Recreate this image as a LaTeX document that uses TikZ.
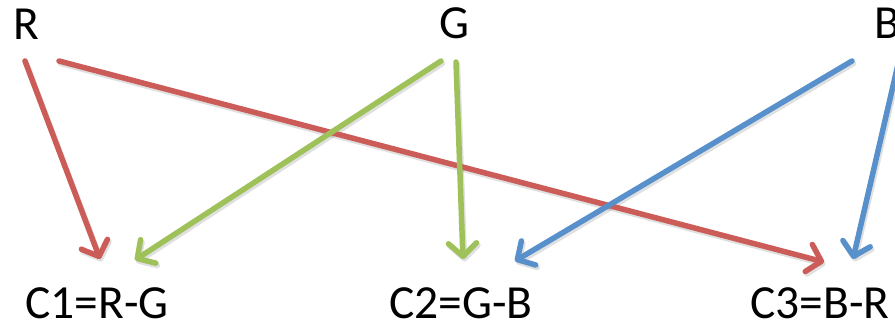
\documentclass[tikz,border=0pt]{standalone}
\usepackage{fontspec}
\setmainfont{Carlito}
\usetikzlibrary{arrows.meta}
\definecolor{cred}{RGB}{204,92,88}
\definecolor{cgreen}{RGB}{158,193,90}
\definecolor{cblue}{RGB}{88,144,204}
\begin{document}
\begin{tikzpicture}[x=1pt,y=-1pt,
  lbl/.style={inner sep=0pt,anchor=base west,text depth=0pt,font=\fontsize{47.5}{50}\selectfont},
  conn/.style={line width=5.5pt,line cap=round,
    -{Straight Barb[length=13pt,width=28pt,line cap=round,line join=round]}},
  shad/.style={conn,draw=black,opacity=0.12,transform canvas={shift={(1.5pt,-2.5pt)}}}]
\useasboundingbox (0,0) rectangle (895,323);
\clip (0,0) rectangle (895,323);
\node[lbl] (R) at (13,40) {R};
\node[lbl] (G) at (439,39) {G};
\node[lbl] (B) at (874,39) {B};
\node[lbl] (C1) at (25,319) {C1=R-G};
\node[lbl] (C2) at (389,319) {C2=G-B};
\node[lbl] (C3) at (750,319) {C3=B-R};
% connector ends
\coordinate (r1) at (25,61);   \coordinate (c1r) at (100,259);
\coordinate (r2) at (59,61);   \coordinate (c3r) at (824,262);
\coordinate (g1) at (441,61);  \coordinate (c1g) at (135,260);
\coordinate (g2) at (456,62);  \coordinate (c2g) at (463,259);
\coordinate (b1) at (852,61);  \coordinate (c2b) at (515,261);
\coordinate (b2) at (899,60);  \coordinate (c3b) at (853,259);
% shadows
\foreach \a/\b in {r1/c1r,r2/c3r,g1/c1g,g2/c2g,b1/c2b,b2/c3b}
  \draw[shad] (\a) -- (\b);
\draw[conn,draw=cred] (r1) -- (c1r);
\draw[conn,draw=cred] (r2) -- (c3r);
\draw[conn,draw=cgreen] (g1) -- (c1g);
\draw[conn,draw=cgreen] (g2) -- (c2g);
\draw[conn,draw=cblue] (b1) -- (c2b);
\draw[conn,draw=cblue] (b2) -- (c3b);
\end{tikzpicture}
\end{document}
